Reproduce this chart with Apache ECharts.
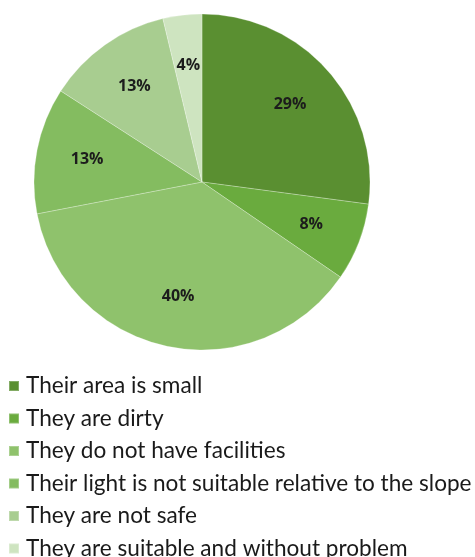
<!DOCTYPE html>
<html>
<head>
<meta charset="utf-8">
<script src="https://cdn.jsdelivr.net/npm/echarts@6/dist/echarts.min.js"></script>
<style>
  html, body { margin: 0; padding: 0; background: #fff; }
  #chart { width: 475px; height: 557px; }
</style>
</head>
<body>
<div id="chart"></div>
<script>
// chart data
const categories = [
  'Their area is small',
  'They are dirty',
  'They do not have facilities',
  'Their light is not suitable relative to the slope',
  'They are not safe',
  'They are suitable and without problem'
]
const percentValues = [29, 8, 40, 13, 13, 4]
const sliceColors = ['#5a8f31', '#6aab3e', '#8fc26c', '#84bc60', '#a8cd90', '#cee4c0']

const chart = echarts.init(document.getElementById('chart'))

const pieData = categories.map((name, i) => ({
  name: name,
  value: percentValues[i],
  itemStyle: { color: sliceColors[i] }
}))

const option = {
  animation: false,
  legend: {
    orient: 'vertical',
    left: 8,
    top: 374,
    height: 190,
    padding: 0,
    icon: 'rect',
    itemWidth: 10,
    itemHeight: 10,
    itemGap: 8.5,
    selectedMode: false,
    data: categories,
    textStyle: {
      fontFamily: 'Lato',
      fontSize: 22.6,
      lineHeight: 24,
      color: '#1a1a1a',
      padding: [0, 0, 0, 2]
    }
  },
  series: [
    {
      type: 'pie',
      center: [202, 182],
      radius: [0, 168],
      startAngle: 90,
      clockwise: true,
      silent: true,
      label: { show: false },
      labelLine: { show: false },
      itemStyle: {
        borderColor: 'rgba(255,255,255,0.25)',
        borderWidth: 1
      },
      data: pieData
    },
    {
      // transparent overlay just to place the labels at ~2/3 radius
      type: 'pie',
      center: [202, 182],
      radius: [60, 168],
      startAngle: 90,
      clockwise: true,
      silent: true,
      legendHoverLink: false,
      itemStyle: { color: 'transparent' },
      label: {
        show: true,
        position: 'inside',
        formatter: '{c}%',
        fontFamily: 'Open Sans',
        fontWeight: 'bold',
        fontSize: 16,
        color: '#1c1c1c'
      },
      labelLine: { show: false },
      data: categories.map((name, i) => ({ name: name + ' ', value: percentValues[i] }))
    }
  ]
}

chart.setOption(option)
</script>
</body>
</html>
